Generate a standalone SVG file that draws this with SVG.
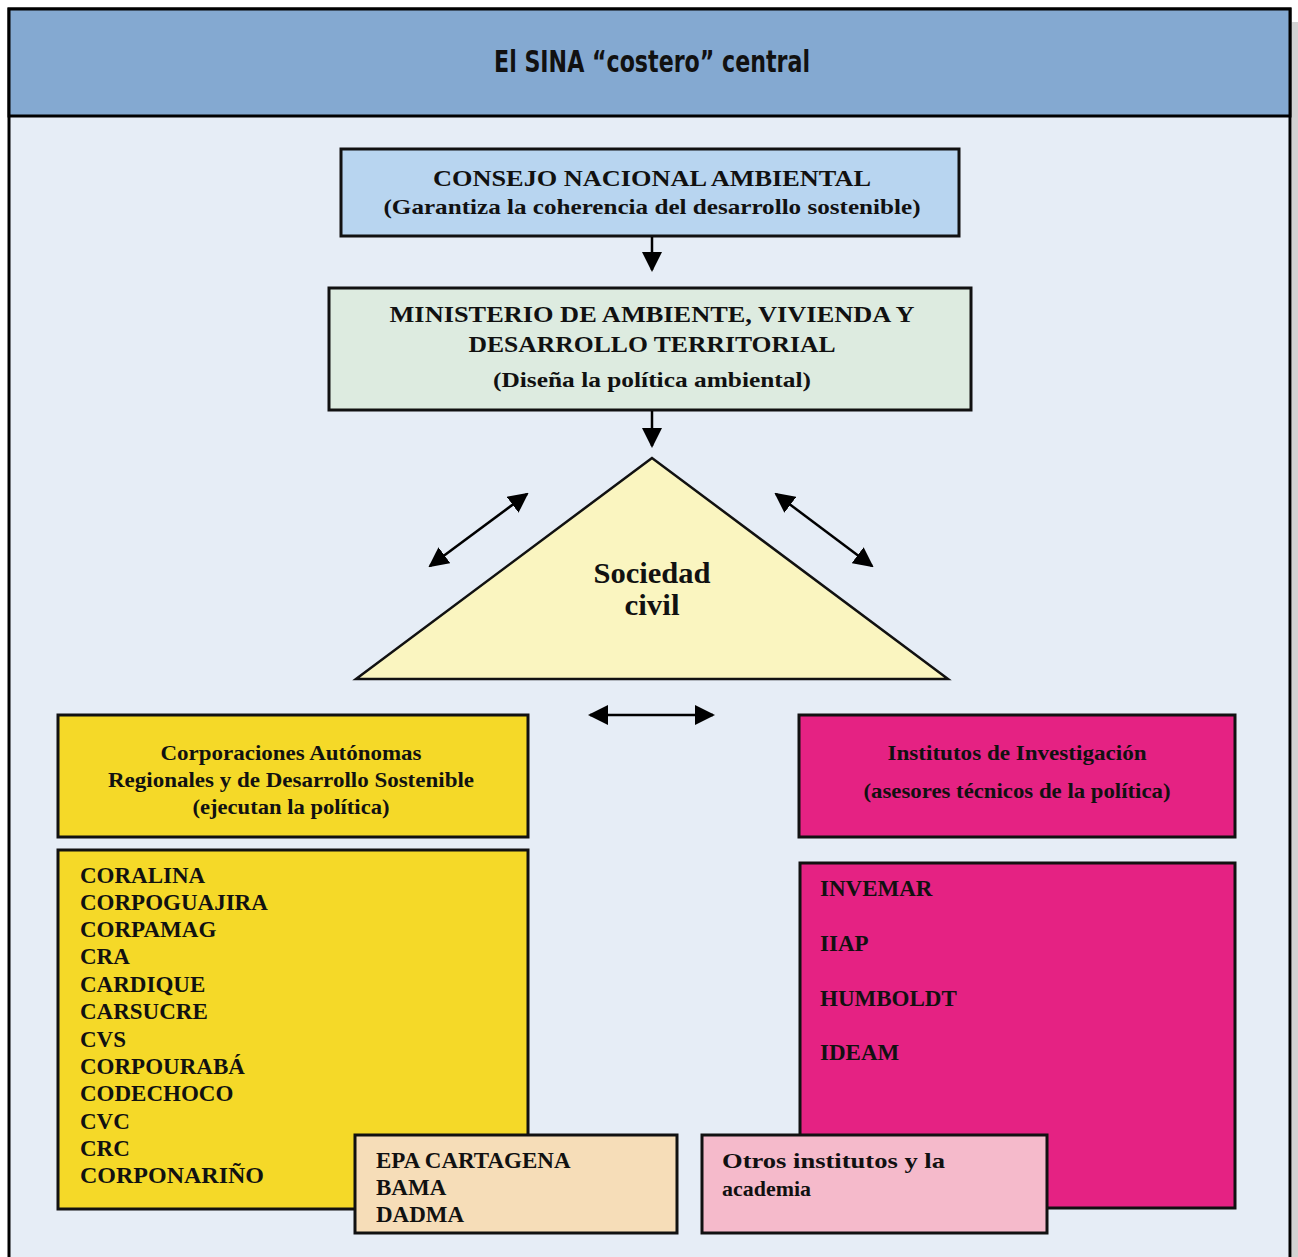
<svg xmlns="http://www.w3.org/2000/svg" width="1298" height="1257" viewBox="0 0 1298 1257">
<defs>
<linearGradient id="topline" x1="0" x2="1" y1="0" y2="0">
<stop offset="0" stop-color="#0a86c2"/><stop offset="1" stop-color="#10a956"/>
</linearGradient>
<marker id="ah" viewBox="0 0 20 20" refX="18" refY="10" markerWidth="20" markerHeight="20" markerUnits="userSpaceOnUse" orient="auto-start-reverse">
<path d="M0,0 L20,10 L0,20 Z" fill="#000"/>
</marker>
<style>
.box{stroke:#111;stroke-width:3}
.t{font-family:"Liberation Serif","Times New Roman",serif;font-weight:bold;fill:#111}
.c{text-anchor:middle}
.conn{stroke:#000;stroke-width:2.5;fill:none}
</style>
</defs>
<rect width="1298" height="1257" fill="#ffffff"/>
<line x1="8" y1="1" x2="1290" y2="1" stroke="url(#topline)" stroke-width="2"/>
<rect x="1292" y="22" width="6" height="1235" fill="#d2d2d2"/>
<rect x="9" y="9" width="1281" height="1260" fill="#e6edf6" stroke="#000" stroke-width="3"/>
<g id="header">
<rect x="9" y="9" width="1281" height="107" fill="#84a9d1" stroke="#000" stroke-width="3"/>
<text x="652" y="72" class="c" style="font-family:'DejaVu Sans Condensed','DejaVu Sans',sans-serif;font-weight:bold;font-stretch:condensed;font-size:30px;fill:#111" textLength="316" lengthAdjust="spacingAndGlyphs">El SINA “costero” central</text>
</g>
<g id="consejo">
<rect class="box" x="341" y="149" width="618" height="87" fill="#b8d5f0"/>
<text class="t c" x="652" y="186" font-size="24" textLength="438" lengthAdjust="spacingAndGlyphs">CONSEJO NACIONAL AMBIENTAL</text>
<text class="t c" x="652" y="214" font-size="22" textLength="537" lengthAdjust="spacingAndGlyphs">(Garantiza la coherencia del desarrollo sostenible)</text>
</g>
<g id="ministerio">
<rect class="box" x="329" y="288" width="642" height="122" fill="#ddebe0"/>
<text class="t c" x="652" y="322" font-size="24" textLength="525" lengthAdjust="spacingAndGlyphs">MINISTERIO DE AMBIENTE, VIVIENDA Y</text>
<text class="t c" x="652" y="352" font-size="24" textLength="367" lengthAdjust="spacingAndGlyphs">DESARROLLO TERRITORIAL</text>
<text class="t c" x="652" y="387" font-size="22" textLength="318" lengthAdjust="spacingAndGlyphs">(Diseña la política ambiental)</text>
</g>
<g id="sociedad">
<polygon points="652,458 356,679 948,679" fill="#faf5c0" stroke="#111" stroke-width="2.5"/>
<text class="t c" x="652" y="583" font-size="30" textLength="117" lengthAdjust="spacingAndGlyphs">Sociedad</text>
<text class="t c" x="652" y="615" font-size="30" textLength="55" lengthAdjust="spacingAndGlyphs">civil</text>
</g>
<g id="corporaciones">
<rect class="box" x="58" y="715" width="470" height="122" fill="#f5d928"/>
<text class="t c" x="291" y="760" font-size="22" textLength="261" lengthAdjust="spacingAndGlyphs">Corporaciones Autónomas</text>
<text class="t c" x="291" y="787" font-size="22" textLength="366" lengthAdjust="spacingAndGlyphs">Regionales y de Desarrollo Sostenible</text>
<text class="t c" x="291" y="814" font-size="22" textLength="197" lengthAdjust="spacingAndGlyphs">(ejecutan la política)</text>
</g>
<g id="institutos">
<rect class="box" x="799" y="715" width="436" height="122" fill="#e52283"/>
<text class="t c" x="1017" y="760" font-size="22" textLength="259" lengthAdjust="spacingAndGlyphs">Institutos de Investigación</text>
<text class="t c" x="1017" y="798" font-size="22" textLength="307" lengthAdjust="spacingAndGlyphs">(asesores técnicos de la política)</text>
</g>
<g id="lista-car">
<rect class="box" x="58" y="850" width="470" height="359" fill="#f5d928"/>
<g class="t" font-size="23">
<text x="80" y="883">CORALINA</text>
<text x="80" y="910">CORPOGUAJIRA</text>
<text x="80" y="937">CORPAMAG</text>
<text x="80" y="964">CRA</text>
<text x="80" y="992">CARDIQUE</text>
<text x="80" y="1019">CARSUCRE</text>
<text x="80" y="1047">CVS</text>
<text x="80" y="1074">CORPOURABÁ</text>
<text x="80" y="1101">CODECHOCO</text>
<text x="80" y="1129">CVC</text>
<text x="80" y="1156">CRC</text>
<text x="80" y="1183" textLength="184" lengthAdjust="spacingAndGlyphs">CORPONARIÑO</text>
</g>
</g>
<g id="lista-institutos">
<rect class="box" x="800" y="863" width="435" height="345" fill="#e52283"/>
<g class="t" font-size="23">
<text x="820" y="896">INVEMAR</text>
<text x="820" y="951">IIAP</text>
<text x="820" y="1006">HUMBOLDT</text>
<text x="820" y="1060">IDEAM</text>
</g>
</g>
<g id="epa">
<rect class="box" x="355" y="1135" width="322" height="98" fill="#f6ddb8"/>
<g class="t" font-size="23">
<text x="376" y="1168">EPA CARTAGENA</text>
<text x="376" y="1195">BAMA</text>
<text x="376" y="1222">DADMA</text>
</g>
</g>
<g id="otros">
<rect class="box" x="702" y="1135" width="345" height="98" fill="#f5bacb"/>
<g class="t" font-size="22">
<text x="722" y="1168" textLength="223" lengthAdjust="spacingAndGlyphs">Otros institutos y la</text>
<text x="722" y="1196" textLength="89" lengthAdjust="spacingAndGlyphs">academia</text>
</g>
</g>
<g id="connectors">
<line class="conn" x1="652" y1="237" x2="652" y2="270" marker-end="url(#ah)"/>
<line class="conn" x1="652" y1="411" x2="652" y2="446" marker-end="url(#ah)"/>
<line class="conn" x1="430" y1="566" x2="527" y2="494" marker-start="url(#ah)" marker-end="url(#ah)"/>
<line class="conn" x1="776" y1="494" x2="872" y2="566" marker-start="url(#ah)" marker-end="url(#ah)"/>
<line class="conn" x1="590" y1="715" x2="713" y2="715" marker-start="url(#ah)" marker-end="url(#ah)"/>
</g>
</svg>
